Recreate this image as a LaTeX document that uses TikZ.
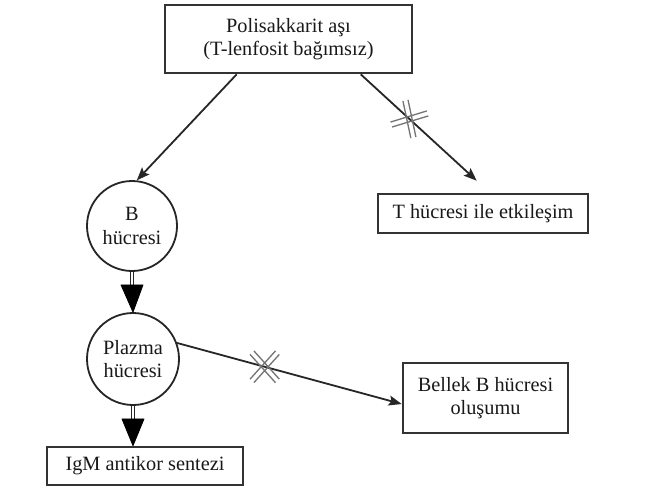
\documentclass[tikz,border=0pt]{standalone}
\usepackage{fontspec}
\setmainfont{Liberation Serif}
\usetikzlibrary{arrows.meta,calc}
\newcommand\strokepair[2]{%
  \draw[crossline] ($(#1)+({#2+90}:2.6pt)+(#2:19pt)$) -- ($(#1)+({#2+90}:2.6pt)-(#2:19pt)$);
  \draw[crossline] ($(#1)-({#2+90}:2.6pt)+(#2:19pt)$) -- ($(#1)-({#2+90}:2.6pt)-(#2:19pt)$);}
\begin{document}
\begin{tikzpicture}[x=1pt,y=-1pt,
  box/.style={draw=black!80, line width=2.6pt, rectangle, inner sep=0pt, align=center,
    font=\fontsize{20.3}{23.5}\selectfont, text=black!90},
  cell/.style={draw=black!85, line width=1.8pt, circle, inner sep=0pt, align=center,
    font=\fontsize{20.3}{23.5}\selectfont, text=black!90},
  arr/.style={draw=black!85, line width=1.8pt, -{Stealth[length=13pt,width=10pt,inset=2.5pt]}},
  crossline/.style={draw=black!55, line width=1.3pt},
  dbl/.style={draw=black!85, double=white, double distance=2.6pt, line width=0.9pt},
  head/.style={fill=black, draw=black, line width=0.8pt, line join=round}]
\useasboundingbox (0,0) rectangle (651,490);
\fill[white] (0,0) rectangle (651,490);

\node[box, minimum width=247pt, minimum height=68pt] (Top) at (288.5,39) {Polisakkarit aşı\\(T-lenfosit bağımsız)};
\node[box, minimum width=210pt, minimum height=39pt] (T) at (483,213.5) {T hücresi ile etkileşim};
\node[box, minimum width=165pt, minimum height=70pt] (Be) at (485.5,398) {Bellek B hücresi\\oluşumu};
\node[box, minimum width=196pt, minimum height=38pt] (I) at (145,466) {IgM antikor sentezi};
\node[cell, minimum size=90pt] (B) at (132,226) {B\\hücresi};
\node[cell, minimum size=92pt] (P) at (133,359) {Plazma\\hücresi};

% arrows from the top box
\draw[arr] ([xshift=73pt]Top.south west) -- (B.84);
\draw[arr] ([xshift=197pt]Top.south west) -- coordinate[pos=0.42] (h1) ([xshift=100pt,yshift=12pt]T.north west);
\strokepair{h1}{102}
\strokepair{h1}{17}

% plazma to bellek
\draw[arr] (P.20) -- coordinate[pos=0.39] (h2) ([yshift=-6pt]Be.west);
\strokepair{h2}{48}
\strokepair{h2}{-48}

% double arrows
\draw[dbl] (B.south) -- ([yshift=-15pt]B.south);
\filldraw[head] ([xshift=-11pt,yshift=-13pt]B.south) -- ([xshift=11pt,yshift=-13pt]B.south) -- (P.north) -- cycle;
\draw[dbl] (P.south) -- ([yshift=-15pt]P.south);
\filldraw[head] ([xshift=-11pt,yshift=-13pt]P.south) -- ([xshift=11pt,yshift=-13pt]P.south) -- (P.south |- I.north) -- cycle;
\end{tikzpicture}
\end{document}
